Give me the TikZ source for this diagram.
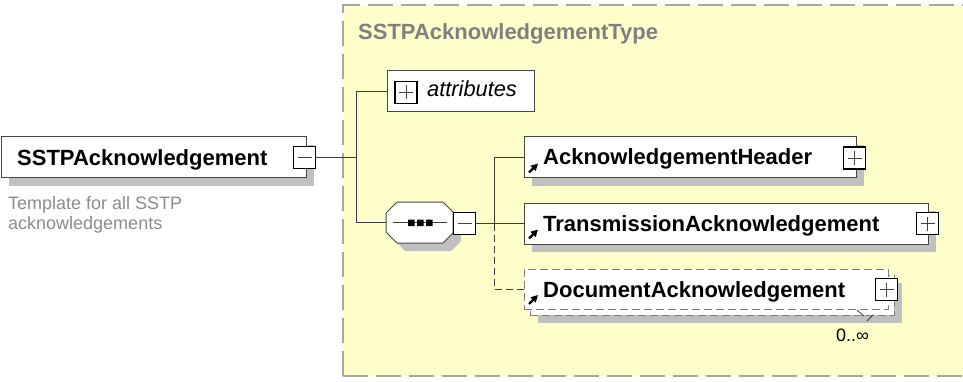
\documentclass[tikz,border=0pt]{standalone}
\usepackage{fontspec}
\setmainfont{Liberation Sans}
\usetikzlibrary{calc,arrows.meta}
\definecolor{bgyellow}{RGB}{255,255,204}
\definecolor{framegray}{RGB}{166,166,166}
\definecolor{shadowgray}{RGB}{192,192,192}
\definecolor{titlegray}{RGB}{128,128,128}
\definecolor{desc}{RGB}{140,140,140}
\definecolor{linec}{RGB}{60,60,60}
\definecolor{boxc}{RGB}{70,70,70}
\pgfdeclarelayer{back}
\pgfdeclarelayer{shade}
\pgfsetlayers{back,shade,main}
\tikzset{
  elbox/.style={draw=boxc, fill=white, line width=1pt, inner sep=0pt, outer sep=0pt, anchor=north west},
  optbox/.style={elbox, dash pattern=on 8pt off 4pt, draw=titlegray},
  pmbox/.style={draw=black, line width=1.4pt, fill=white, minimum size=22pt, inner sep=0pt, outer sep=0pt},
  plusbox/.style={pmbox, path picture={\draw[line width=0.8pt, black!75]
      ([xshift=4pt]path picture bounding box.west) -- ([xshift=-4pt]path picture bounding box.east)
      ([yshift=-4pt]path picture bounding box.north) -- ([yshift=4pt]path picture bounding box.south);}},
  minusbox/.style={pmbox, path picture={\draw[line width=0.8pt, black!75]
      ([xshift=4pt]path picture bounding box.west) -- ([xshift=-4pt]path picture bounding box.east);}},
  conn/.style={draw=linec, line width=1pt},
  optconn/.style={conn, dash pattern=on 7pt off 4pt},
  bigtxt/.style={inner sep=0pt, anchor=base west, font=\fontsize{22}{24}\selectfont\bfseries},
  reftip/.style={-{Triangle[length=7pt,width=7pt]}, line width=2.2pt, black},
}
\begin{document}
\begin{tikzpicture}[x=1pt,y=-1pt]
\useasboundingbox (0,0) rectangle (963,382);
% background type frame
\begin{pgfonlayer}{back}
\fill[bgyellow] (343,5) rectangle (970,376);
\draw[framegray, line width=1.5pt, dash pattern=on 25pt off 8pt] (343,376) -- (343,5) -- (970,5);
\draw[framegray, line width=1.5pt, dash pattern=on 25pt off 8pt] (343,376) -- (970,376);
\end{pgfonlayer}
\node[inner sep=0pt, anchor=base west, text=titlegray, font=\fontsize{22}{24}\selectfont\bfseries] (title) at (358,40) {SSTPAcknowledgementType};

% main element
\node[elbox, minimum width=305pt, minimum height=41pt] (main) at (1,137) {};
\node[bigtxt] (maintxt) at (17,166) {SSTPAcknowledgement};
\node[minusbox] (mainm) at (304.5,157.5) {};
\node[inner sep=0pt, anchor=base west, text=desc, align=left, font=\fontsize{18}{20}\selectfont] (maindesc) at (8,229) {Template for all SSTP\\acknowledgements};

% attributes
\node[elbox, minimum width=147pt, minimum height=41pt] (attr) at (387,71) {};
\node[plusbox] (attrp) at (406,92.5) {};
\node[inner sep=0pt, anchor=base west, font=\fontsize{21.8}{24}\selectfont\itshape] (attrtxt) at (427,97) {attributes};

% sequence compositor
\coordinate (seqL) at (386,222.5);
\begin{pgfonlayer}{shade}
\fill[shadowgray] (394,221) -- (405,210) -- (451,210) -- (461,220) -- (461,241) -- (451,251) -- (405,251) -- (394,240) -- cycle;
\end{pgfonlayer}
\draw[draw=boxc, fill=white, line width=1pt] (386,213) -- (397,202) -- (443,202) -- (453,212) -- (453,233) -- (443,243) -- (397,243) -- (386,232) -- cycle;
\draw[linec, line width=0.8pt] (393,222.5) -- (447,222.5);
\fill[black] (408,219.5) rectangle (414.5,226) (417,219.5) rectangle (423.5,226) (426,219.5) rectangle (432.5,226);
\node[minusbox] (seqm) at (464.5,223.5) {};

% children
\node[elbox, minimum width=332pt, minimum height=41pt] (hdr) at (524,137) {};
\node[elbox, minimum width=404pt, minimum height=41pt] (trn) at (524,203) {};
\begin{pgfonlayer}{shade}
\fill[shadowgray] ($(main.north west)+(8,8)$) rectangle ($(main.south east)+(8,8)$);
\fill[shadowgray] ($(hdr.north west)+(8,8)$) rectangle ($(hdr.south east)+(8,8)$);
\fill[shadowgray] ($(trn.north west)+(8,8)$) rectangle ($(trn.south east)+(8,8)$);
\fill[shadowgray] (538,283) rectangle (902,323);
\end{pgfonlayer}
\node[optbox, minimum width=364pt, minimum height=40pt] (docback) at (530,275) {};
\node[optbox, minimum width=364pt, minimum height=40pt] (doc) at (524,269) {};
\draw[linec, line width=0.8pt] (857,310) -- (864,316) (867,321) -- (873,315);

\node[bigtxt] (hdrtxt) at (543,165) {AcknowledgementHeader};
\node[bigtxt] (trntxt) at (543,231.5) {TransmissionAcknowledgement};
\node[bigtxt] (doctxt) at (543,297) {DocumentAcknowledgement};
\node[plusbox] (hdrp) at (854.5,158) {};
\node[plusbox] (trnp) at (927.5,223.5) {};
\node[plusbox] (docp) at (886.5,289.5) {};
\node[inner sep=0pt, anchor=base west, font=\fontsize{18}{20}\selectfont] (mult) at (836,341) {0..∞};

% reference arrows
\draw[reftip] ($(hdr.west)+(5,15)$) -- ($(hdr.west)+(14,6)$);
\draw[reftip] ($(trn.west)+(5,15)$) -- ($(trn.west)+(14,6)$);
\draw[reftip] ($(doc.west)+(5,15)$) -- ($(doc.west)+(14,6)$);

% connectors
\coordinate (j1) at (356,0);
\coordinate (j2) at (494,0);
\draw[conn] (mainm.east) -- (mainm.east -| j1);
\draw[conn] (attr.west -| j1) |- (attr.west);
\draw[conn] (attr.west -| j1) -- (seqL -| j1) -- (seqL);
\draw[conn] (seqm.east) -- (seqm.east -| j2);
\draw[conn] (seqm.east -| j2) |- (hdr.west);
\draw[conn] (seqm.east -| j2) -- (trn.west);
\draw[optconn] (seqm.east -| j2) |- (doc.west);
\end{tikzpicture}
\end{document}
